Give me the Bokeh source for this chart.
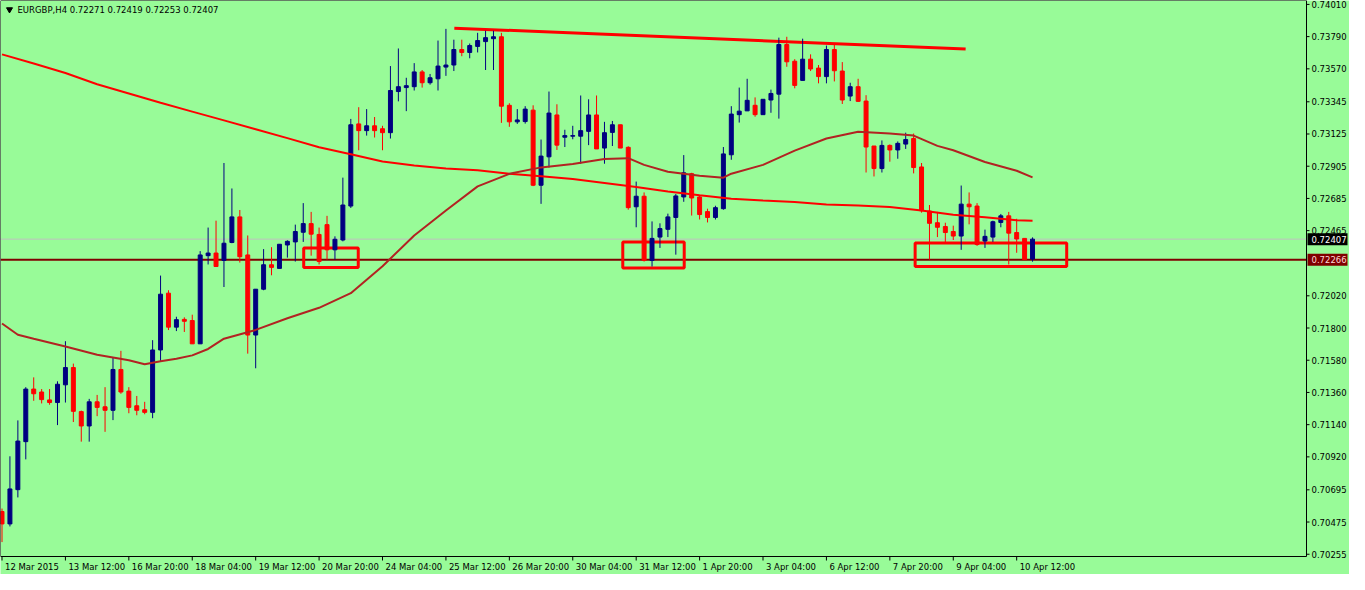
from bokeh.plotting import figure
from bokeh.models import ColumnDataSource, Range1d
from bokeh.core.properties import value
from bokeh.embed import file_html
from bokeh.resources import INLINE

symbol = "EURGBP,H4"

date_labels = ["12 Mar 2015", "13 Mar 12:00", "16 Mar 20:00", "18 Mar 04:00", "19 Mar 12:00",
               "20 Mar 20:00", "24 Mar 04:00", "25 Mar 12:00", "26 Mar 20:00", "30 Mar 04:00",
               "31 Mar 12:00", "1 Apr 20:00", "3 Apr 04:00", "6 Apr 12:00", "7 Apr 20:00",
               "9 Apr 04:00", "10 Apr 12:00"]

opens = [
    0.70547, 0.70462, 0.70696, 0.71024, 0.71383, 0.71363, 0.71309, 0.71291, 0.71412, 0.71530,
    0.71229, 0.71131, 0.71296, 0.71262, 0.71238, 0.71517, 0.71369, 0.71269, 0.71242, 0.71224,
    0.71650, 0.72038, 0.71806, 0.71859, 0.71851, 0.71692, 0.72294, 0.72312, 0.72261, 0.72384,
    0.72559, 0.72299, 0.71752, 0.72065, 0.72232, 0.72207, 0.72367, 0.72388, 0.72454, 0.72513,
    0.72439, 0.72506, 0.72334, 0.72401, 0.72633, 0.73194, 0.73148, 0.73181, 0.73161, 0.73134,
    0.73415, 0.73442, 0.73448, 0.73549, 0.73475, 0.73502, 0.73582, 0.73596, 0.73702, 0.73682,
    0.73723, 0.73756, 0.73776, 0.73789, 0.73321, 0.73208, 0.73210, 0.73288, 0.72775, 0.72969,
    0.73255, 0.73103, 0.73110, 0.73110, 0.73143, 0.73255, 0.73029, 0.73136, 0.73188, 0.73034,
    0.72628, 0.72700, 0.72261, 0.72421, 0.72474, 0.72555, 0.72695, 0.72854, 0.72695, 0.72595,
    0.72555, 0.72615, 0.72983, 0.73257, 0.73283, 0.73321, 0.73257, 0.73357, 0.73397, 0.73736,
    0.73622, 0.73491, 0.73636, 0.73575, 0.73517, 0.73702, 0.73555, 0.73384, 0.73448, 0.73350,
    0.73043, 0.72889, 0.73047, 0.73016, 0.73056, 0.73094, 0.72900, 0.72599, 0.72519, 0.72493,
    0.72459, 0.72428, 0.72646, 0.72633, 0.72394, 0.72421, 0.72521, 0.72566, 0.72452, 0.72412,
    0.72271]

highs = [
    0.70567, 0.70924, 0.71169, 0.71396, 0.71463, 0.71383, 0.71383, 0.71436, 0.71710, 0.71557,
    0.71236, 0.71316, 0.71343, 0.71396, 0.71597, 0.71644, 0.71396, 0.71336, 0.71296, 0.71717,
    0.72158, 0.72058, 0.71877, 0.71873, 0.71891, 0.72325, 0.72486, 0.72533, 0.72927, 0.72753,
    0.72606, 0.72432, 0.72065, 0.72339, 0.72352, 0.72372, 0.72399, 0.72506, 0.72653, 0.72593,
    0.72486, 0.72566, 0.72426, 0.72827, 0.73228, 0.73308, 0.73295, 0.73241, 0.73181, 0.73589,
    0.73709, 0.73509, 0.73609, 0.73562, 0.73535, 0.73763, 0.73843, 0.73769, 0.73769, 0.73743,
    0.73816, 0.73830, 0.73830, 0.73816, 0.73335, 0.73295, 0.73315, 0.73321, 0.73087, 0.73415,
    0.73328, 0.73154, 0.73181, 0.73388, 0.73362, 0.73388, 0.73208, 0.73214, 0.73188, 0.73041,
    0.72800, 0.72726, 0.72528, 0.72515, 0.72581, 0.72715, 0.72981, 0.72860, 0.72708, 0.72615,
    0.72635, 0.73036, 0.73315, 0.73442, 0.73502, 0.73375, 0.73362, 0.73428, 0.73783, 0.73789,
    0.73636, 0.73776, 0.73669, 0.73596, 0.73729, 0.73736, 0.73616, 0.73475, 0.73502, 0.73390,
    0.73043, 0.73081, 0.73054, 0.73074, 0.73134, 0.73128, 0.72927, 0.72640, 0.72593, 0.72519,
    0.72499, 0.72773, 0.72726, 0.72653, 0.72472, 0.72533, 0.72579, 0.72593, 0.72546, 0.72412,
    0.72419]

lows = [
    0.70338, 0.70445, 0.70643, 0.70903, 0.71303, 0.71285, 0.71276, 0.71137, 0.71291, 0.71158,
    0.71024, 0.71024, 0.71198, 0.71091, 0.71171, 0.71351, 0.71218, 0.71204, 0.71211, 0.71184,
    0.71575, 0.71786, 0.71779, 0.71773, 0.71692, 0.71692, 0.72234, 0.72220, 0.72080, 0.72379,
    0.72247, 0.71625, 0.71525, 0.72058, 0.72160, 0.72207, 0.72281, 0.72254, 0.72388, 0.72294,
    0.72234, 0.72267, 0.72267, 0.72392, 0.72620, 0.73014, 0.73114, 0.73101, 0.73014, 0.73094,
    0.73348, 0.73281, 0.73422, 0.73442, 0.73462, 0.73422, 0.73522, 0.73555, 0.73656, 0.73642,
    0.73682, 0.73562, 0.73562, 0.73201, 0.73174, 0.73194, 0.73196, 0.72769, 0.72648, 0.72896,
    0.73016, 0.73036, 0.73089, 0.72922, 0.73049, 0.73023, 0.72922, 0.73043, 0.73029, 0.72608,
    0.72488, 0.72254, 0.72220, 0.72347, 0.72421, 0.72301, 0.72662, 0.72568, 0.72541, 0.72521,
    0.72541, 0.72608, 0.72949, 0.73203, 0.73283, 0.73243, 0.73257, 0.73270, 0.73230, 0.73584,
    0.73437, 0.73491, 0.73555, 0.73471, 0.73471, 0.73484, 0.73330, 0.73350, 0.73344, 0.72862,
    0.72835, 0.72862, 0.72936, 0.72956, 0.73023, 0.72856, 0.72588, 0.72267, 0.72421, 0.72381,
    0.72401, 0.72334, 0.72508, 0.72361, 0.72347, 0.72388, 0.72488, 0.72234, 0.72314, 0.72267,
    0.72253]

closes = [
    0.70462, 0.70701, 0.71028, 0.71383, 0.71351, 0.71311, 0.71291, 0.71416, 0.71530, 0.71231,
    0.71131, 0.71296, 0.71258, 0.71238, 0.71517, 0.71363, 0.71258, 0.71238, 0.71224, 0.71650,
    0.72031, 0.71806, 0.71857, 0.71846, 0.71692, 0.72299, 0.72312, 0.72220, 0.72379, 0.72559,
    0.72287, 0.71752, 0.72065, 0.72232, 0.72214, 0.72372, 0.72392, 0.72459, 0.72513, 0.72441,
    0.72254, 0.72334, 0.72406, 0.72640, 0.73188, 0.73148, 0.73181, 0.73148, 0.73134, 0.73422,
    0.73448, 0.73455, 0.73549, 0.73475, 0.73509, 0.73589, 0.73596, 0.73702, 0.73682, 0.73729,
    0.73763, 0.73783, 0.73789, 0.73315, 0.73208, 0.73221, 0.73295, 0.72775, 0.72974, 0.73268,
    0.73049, 0.73114, 0.73114, 0.73148, 0.73255, 0.73023, 0.73134, 0.73188, 0.73029, 0.72622,
    0.72700, 0.72261, 0.72412, 0.72479, 0.72559, 0.72702, 0.72860, 0.72688, 0.72575, 0.72555,
    0.72622, 0.72989, 0.73261, 0.73281, 0.73355, 0.73257, 0.73362, 0.73402, 0.73736, 0.73618,
    0.73457, 0.73636, 0.73569, 0.73517, 0.73702, 0.73557, 0.73357, 0.73448, 0.73348, 0.73036,
    0.72889, 0.73047, 0.73016, 0.73061, 0.73087, 0.72896, 0.72601, 0.72515, 0.72488, 0.72452,
    0.72428, 0.72646, 0.72628, 0.72370, 0.72426, 0.72526, 0.72566, 0.72448, 0.72408, 0.72267,
    0.72407]

# slow moving average (red) at candle indices
ma_slow_idx = [0, 4, 8, 12, 16, 20, 24, 28, 32, 36, 40, 44, 48, 52, 56, 60, 64, 68, 72, 76,
               80, 84, 88, 92, 96, 100, 104, 108, 112, 116, 120, 124, 128, 130]
ma_slow = [0.73669, 0.73606, 0.73542, 0.73465, 0.73402, 0.73338, 0.73278, 0.73218, 0.73158,
           0.73097, 0.73034, 0.72987, 0.72937, 0.72910, 0.72890, 0.72877, 0.72853, 0.72837,
           0.72817, 0.72790, 0.72763, 0.72733, 0.72706, 0.72683, 0.72670, 0.72660, 0.72643,
           0.72636, 0.72626, 0.72603, 0.72573, 0.72556, 0.72536, 0.72533]

# fast moving average (brown) at candle indices
ma_fast_idx = [0, 2, 4, 8, 12, 16, 18, 20, 22, 24, 26, 28, 32, 36, 40, 44, 48, 52, 56, 60,
               64, 68, 72, 76, 79, 81, 84, 88, 91, 92, 96, 100, 104, 108, 112, 115, 118, 120,
               124, 128, 130]
ma_fast = [0.71831, 0.71754, 0.71727, 0.71674, 0.71617, 0.71580, 0.71552, 0.71573, 0.71590,
           0.71613, 0.71657, 0.71727, 0.71787, 0.71867, 0.71938, 0.72038, 0.72222, 0.72432,
           0.72603, 0.72767, 0.72853, 0.72897, 0.72920, 0.72954, 0.72960, 0.72914, 0.72867,
           0.72840, 0.72827, 0.72854, 0.72914, 0.73011, 0.73094, 0.73141, 0.73128, 0.73114,
           0.73044, 0.73014, 0.72934, 0.72874, 0.72829]

price_ticks = [0.70255, 0.70475, 0.70695, 0.70920, 0.71140, 0.71360, 0.71580, 0.71800, 0.72020,
               0.72465, 0.72685, 0.72905, 0.73125, 0.73345, 0.73570, 0.73790, 0.74010]

bid_price = 0.72407
level_price = 0.72266

trend_idx = [57.06, 121.56]
trend_price = [0.73848, 0.73705]

box_left = [38.06, 78.31, 115.19]
box_right = [44.94, 86.06, 134.31]
box_top = [0.72347, 0.72388, 0.72381]
box_bottom = [0.72214, 0.72210, 0.72220]

# ---------------------------------------------------------------- layout
BG = "#98FB98"
BULL = "#000080"
BEAR = "#FF0000"
FONT = value("DejaVu Sans")
FS = value("8.5px")

W, H = 1349, 574
AXIS_R_PX, AXIS_B_PX = 43, 18
X0, X1 = -0.19, 164.56            # index span of the price area
P0, P1 = 0.702396, 0.740367       # price span of the price area
kx = (W - AXIS_R_PX) / (X1 - X0)   # px per candle index
ky = (H - AXIS_B_PX) / (P1 - P0)   # px per price unit
x_end = X0 + W / kx
y_start = P1 - H / ky

p = figure(width=W, height=H, output_backend="svg", toolbar_location=None,
           x_range=Range1d(X0, x_end), y_range=Range1d(y_start, P1),
           x_axis_location=None, y_axis_location=None,
           min_border_left=0, min_border_right=0, min_border_top=0, min_border_bottom=0,
           background_fill_color=BG, border_fill_color=BG, outline_line_color=None)
p.grid.visible = False

# level lines across the price area
p.segment(x0=[X0, X0], y0=[bid_price, level_price], x1=[X1, X1], y1=[bid_price, level_price],
          line_color=["#C0C0C0", "#800000"], line_width=[1, 2])

# rectangles and trend line
p.quad(left=box_left, right=box_right, top=box_top, bottom=box_bottom,
       fill_color=None, line_color="#FF0000", line_width=3)
p.line(trend_idx, trend_price, line_color="#FF0000", line_width=3)

# candles
n = len(opens)
src = ColumnDataSource(dict(
    x=list(range(n)), high=highs, low=lows,
    top=[max(o, c) for o, c in zip(opens, closes)],
    bottom=[min(o, c) for o, c in zip(opens, closes)],
    color=[BULL if c >= o else BEAR for o, c in zip(opens, closes)]))
p.segment(x0="x", y0="low", x1="x", y1="high", source=src, line_color="color", line_width=1)
p.vbar(x="x", width=0.5, top="top", bottom="bottom", source=src,
       fill_color="color", line_color="color", line_width=1)

# moving averages
p.line(ma_slow_idx, ma_slow, line_color="#FF0000", line_width=2)
p.line(ma_fast_idx, ma_fast, line_color="#B22222", line_width=2)

# frame of the price area
p.line([X0, X0, X1, X1], [P1, P0, P0, P1], line_color="black", line_width=1)
p.line([X0, X1], [P1, P1], line_color="black", line_width=1)

# right price scale
p.segment(x0=[X1] * len(price_ticks), y0=price_ticks,
          x1=[X1 + 3 / kx] * len(price_ticks), y1=price_ticks, line_color="black")
p.text(x=[X1 + 5 / kx] * len(price_ticks), y=price_ticks,
       text=[f"{t:.5f}" for t in price_ticks], text_baseline="middle", text_align="left",
       text_font=FONT, text_font_size=FS, text_color="black")

# price boxes
p.quad(left=[X1 + 1 / kx] * 2, right=[X1 + 41 / kx] * 2,
       top=[bid_price + 6 / ky, level_price + 6 / ky],
       bottom=[bid_price - 6 / ky, level_price - 6 / ky],
       fill_color=["black", "#800000"], line_color=None)
p.text(x=[X1 + 5 / kx] * 2, y=[bid_price, level_price],
       text=[f"{bid_price:.5f}", f"{level_price:.5f}"], text_baseline="middle", text_align="left",
       text_font=FONT, text_font_size=FS, text_color=["white", "#FFD8D8"])

# time scale
tick_idx = list(range(0, 8 * len(date_labels), 8))
p.segment(x0=tick_idx, y0=[P0] * len(tick_idx), x1=tick_idx,
          y1=[P0 - 4 / ky] * len(tick_idx), line_color="black")
p.text(x=[t + 3 / kx for t in tick_idx], y=[P0 - 5 / ky] * len(tick_idx), text=date_labels,
       text_baseline="top", text_align="left",
       text_font=FONT, text_font_size=FS, text_color="black")

# header
header = f"{symbol}  {opens[-1]:.5f} {highs[-1]:.5f} {lows[-1]:.5f} {closes[-1]:.5f}"
p.text(x=[X0 + 17 / kx], y=[P1 - 9 / ky], text=[header], text_baseline="middle",
       text_align="left", text_font=FONT, text_font_size=FS, text_color="black")
p.scatter(x=[X0 + 9 / kx], y=[P1 - 9 / ky], marker="inverted_triangle", size=6,
          fill_color="black", line_color="black")

open("out.html", "w").write(file_html(p, INLINE))
